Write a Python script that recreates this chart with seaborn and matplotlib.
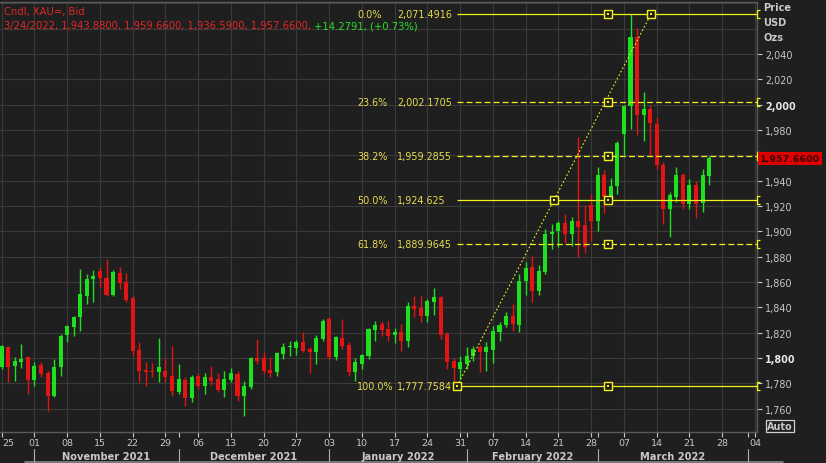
import numpy as np
import pandas as pd
import seaborn as sns
import matplotlib
matplotlib.use("Agg")
import matplotlib.pyplot as plt
from matplotlib.lines import Line2D
from matplotlib.patches import Rectangle
from matplotlib.path import Path

# ---------------- data ----------------
open_ = [1792.8, 1808.5, 1793.4, 1797.2, 1800.6, 1782.9, 1794.8, 1788.2, 1770.3, 1792.7,
         1818.2, 1824.8, 1832.2, 1849.3, 1862.0, 1868.3, 1863.0, 1850.1, 1867.2, 1859.9,
         1847.5, 1806.4, 1790.5, 1790.0, 1789.2, 1790.0, 1786.1, 1772.9, 1782.9, 1768.4,
         1786.1, 1777.7, 1785.3, 1783.4, 1775.0, 1782.6, 1787.4, 1770.3, 1777.4, 1800.1,
         1800.1, 1790.5, 1789.2, 1803.2, 1808.5, 1808.0, 1813.0, 1807.2, 1804.5, 1815.1,
         1830.9, 1800.6, 1815.9, 1810.3, 1789.2, 1795.3, 1801.4, 1822.4, 1826.9, 1823.0,
         1818.5, 1820.9, 1813.8, 1841.4, 1839.3, 1833.5, 1844.1, 1848.5, 1819.0, 1797.4,
         1791.4, 1795.3, 1801.4, 1808.5, 1805.1, 1806.6, 1820.3, 1826.1, 1832.9, 1826.1,
         1861.1, 1871.6, 1853.2, 1868.2, 1898.0, 1900.6, 1906.7, 1898.0, 1908.0, 1904.6,
         1920.4, 1908.5, 1944.6, 1926.4, 1935.7, 1977.1, 1999.0, 2053.5, 1992.1, 1996.8,
         1985.0, 1952.0, 1917.8, 1927.0, 1944.1, 1921.8, 1936.8, 1922.5, 1943.88]
high = [1810.5, 1809.5, 1800.6, 1811.1, 1801.9, 1797.1, 1797.1, 1790.0, 1799.2, 1819.0,
        1826.1, 1833.5, 1869.9, 1866.4, 1869.1, 1871.7, 1878.3, 1869.1, 1871.7, 1867.2,
        1849.3, 1812.9, 1796.6, 1796.1, 1815.6, 1799.8, 1809.8, 1795.3, 1784.8, 1786.6,
        1788.2, 1788.2, 1794.0, 1788.2, 1789.5, 1792.1, 1790.0, 1781.6, 1800.6, 1815.1,
        1804.5, 1800.6, 1805.1, 1811.9, 1813.8, 1814.5, 1820.9, 1808.5, 1818.2, 1830.9,
        1832.7, 1817.7, 1830.4, 1812.4, 1799.8, 1803.2, 1823.5, 1829.6, 1829.6, 1829.6,
        1823.5, 1826.9, 1844.1, 1849.3, 1848.8, 1846.7, 1855.1, 1849.3, 1820.3, 1799.8,
        1801.4, 1808.5, 1809.8, 1810.3, 1812.4, 1825.1, 1828.8, 1836.1, 1842.7, 1866.4,
        1875.6, 1880.9, 1873.5, 1901.9, 1905.9, 1908.5, 1913.8, 1911.2, 1974.4, 1920.4,
        1929.6, 1950.7, 1948.8, 1942.3, 1971.0, 2000.0, 2071.2, 2060.6, 2010.0, 2000.0,
        1990.3, 1954.7, 1931.0, 1950.7, 1946.3, 1941.5, 1939.4, 1949.4, 1959.66]
low = [1791.5, 1780.8, 1782.1, 1792.4, 1771.6, 1778.2, 1784.8, 1758.4, 1769.0, 1785.5,
       1812.4, 1817.2, 1821.6, 1842.7, 1844.6, 1855.9, 1848.8, 1849.3, 1854.6, 1844.0,
       1801.9, 1781.3, 1778.2, 1784.8, 1780.8, 1781.3, 1770.3, 1771.6, 1761.8, 1765.5,
       1775.5, 1771.6, 1779.0, 1772.9, 1769.5, 1781.3, 1766.3, 1754.0, 1775.5, 1795.3,
       1787.4, 1784.8, 1785.5, 1799.3, 1801.4, 1802.4, 1804.5, 1788.2, 1795.3, 1813.8,
       1798.7, 1798.7, 1807.2, 1786.1, 1782.1, 1791.4, 1799.3, 1813.8, 1817.7, 1813.8,
       1811.9, 1805.8, 1808.5, 1832.2, 1828.2, 1828.2, 1834.0, 1815.1, 1791.4, 1778.5,
       1783.4, 1791.4, 1797.9, 1788.7, 1790.0, 1796.1, 1813.8, 1824.2, 1821.6, 1820.8,
       1849.8, 1844.0, 1849.8, 1866.4, 1886.1, 1887.4, 1890.9, 1888.8, 1879.5, 1883.0,
       1892.7, 1900.6, 1914.3, 1922.5, 1929.6, 1960.0, 1981.0, 1976.3, 1971.0, 1960.0,
       1949.4, 1905.9, 1895.4, 1923.1, 1917.8, 1917.8, 1910.4, 1915.1, 1936.59]
close = [1809.8, 1792.7, 1797.9, 1799.3, 1782.9, 1794.0, 1787.4, 1770.3, 1792.7, 1817.2,
         1825.0, 1832.2, 1850.6, 1862.5, 1865.1, 1863.0, 1850.1, 1867.8, 1859.1, 1845.4,
         1805.8, 1790.0, 1789.2, 1788.7, 1793.2, 1785.3, 1774.2, 1783.4, 1768.4, 1785.3,
         1778.2, 1784.8, 1781.6, 1775.0, 1783.4, 1788.2, 1770.3, 1778.2, 1800.1, 1797.9,
         1790.0, 1788.2, 1804.0, 1809.0, 1809.6, 1812.4, 1805.8, 1804.5, 1815.6, 1829.6,
         1800.6, 1816.4, 1809.3, 1789.2, 1797.1, 1802.4, 1823.0, 1826.1, 1822.4, 1817.7,
         1820.3, 1813.8, 1841.4, 1838.8, 1833.5, 1844.8, 1848.0, 1818.2, 1797.1, 1791.9,
         1797.1, 1801.4, 1807.2, 1805.1, 1808.5, 1821.7, 1826.1, 1832.9, 1826.9, 1861.1,
         1870.9, 1853.2, 1869.0, 1898.0, 1899.3, 1906.7, 1898.0, 1908.0, 1903.8, 1888.0,
         1908.5, 1944.6, 1927.0, 1935.7, 1969.9, 1999.0, 2053.5, 1992.1, 1996.8, 1985.8,
         1952.0, 1917.8, 1928.9, 1944.1, 1921.8, 1936.8, 1921.8, 1944.7, 1957.66]

day_labels = ["25", "01", "08", "15", "22", "29", "06", "13", "20", "27", "03", "10",
              "17", "24", "31", "07", "14", "21", "28", "07", "14", "21", "28", "04"]
month_labels = ["November 2021", "December 2021", "January 2022", "February 2022", "March 2022"]
month_start_idx = [5, 27, 50, 71, 91, 114]

fib_pct = ["0.0%", "23.6%", "38.2%", "50.0%", "61.8%", "100.0%"]
fib_val = [2071.4916, 2002.1705, 1959.2855, 1924.625, 1889.9645, 1777.7584]
fib_val_text = ["2,071.4916", "2,002.1705", "1,959.2855", "1,924.625", "1,889.9645", "1,777.7584"]
fib_start = 69.5      # trading-day index of the 100% anchor
fib_end = 99.13       # trading-day index of the 0% anchor
fib_mid = 92.56       # column of level handles

price_ticks = [1760, 1780, 1800, 1820, 1840, 1860, 1880, 1900, 1920, 1940, 1980, 2000, 2020, 2040]
last_price = 1957.66
header1 = "Cndl, XAU=, Bid"
header2_red = "3/24/2022, 1,943.8800, 1,959.6600, 1,936.5900, 1,957.6600, "
header2_green = "+14.2791, (+0.73%)"

# ---------------- style ----------------
W, H = 826, 464
BG = "#1f1f1f"
GRID = "#3a3a3a"
UP = "#1fe01f"
DN = "#e21414"
YEL = "#f2f21a"
YTXT = "#e6dc50"
TXT = "#c8c8c8"

sns.set_theme(style="dark")
plt.rcParams["font.family"] = ["DejaVu Sans"]
plt.rcParams["lines.scale_dashes"] = False

fig = plt.figure(figsize=(W / 100, H / 100), dpi=100, facecolor=BG)
PX0, PXD = 1.7, 6.55         # pixel of index 0, pixels per trading day
AX_TOP, AX_BOT, AX_RIGHT = 3, 433, 757
ax = fig.add_axes([0, (H - AX_BOT) / H, AX_RIGHT / W, (AX_BOT - AX_TOP) / H])
ax.set_facecolor(BG)

y_top = 1800 + (359 - AX_TOP) / 1.2668
y_bot = 1800 - (AX_BOT - 359) / 1.2668
x_left = -PX0 / PXD
x_right = (AX_RIGHT - PX0) / PXD
ax.set_xlim(x_left, x_right)
ax.set_ylim(y_bot, y_top)

def fx(px):
    return px / W

def fy(py):
    return 1 - py / H

# grid
ax.grid(False)
for v in range(1740, 2100, 20):
    ax.axhline(v, color=GRID, lw=0.8, zorder=0)
for k in range(0, 120, 5):
    ax.axvline(k, color=GRID, lw=0.8, zorder=0)

# candles
df = pd.DataFrame({"i": np.arange(len(open_)), "o": open_, "h": high, "l": low, "c": close})
df["up"] = df["c"] >= df["o"]
df["col"] = np.where(df["up"], UP, DN)
df["bot"] = df[["o", "c"]].min(axis=1)
df["hgt"] = (df["c"] - df["o"]).abs().clip(lower=0.9)
ax.vlines(df["i"], df["l"], df["h"], colors=df["col"], lw=1.0, zorder=3)
ax.bar(df["i"], df["hgt"], bottom=df["bot"], width=0.62, color=df["col"], linewidth=0, zorder=4)

# fibonacci levels
dashed = {"23.6%", "38.2%", "61.8%"}
bracket = Path([(0.7, -1), (0, -1), (0, 1), (0.7, 1)],
               [Path.MOVETO, Path.LINETO, Path.LINETO, Path.LINETO])
for p, v, vt in zip(fib_pct, fib_val, fib_val_text):
    ls = (0, (4.3, 2.2)) if p in dashed else "-"
    ax.plot([fib_start, x_right], [v, v], color=YEL, lw=0.9, ls=ls, zorder=5, solid_capstyle="butt")
    ax.plot([x_right], [v], marker=bracket, ms=5.5, mec=YEL, mfc="none", mew=0.9,
            clip_on=False, zorder=6)
    ypx = 359 - (v - 1800) * 1.2668
    fig.text(fx(357), fy(ypx), p, color=YTXT, fontsize=6.9, va="center", ha="left")
    fig.text(fx(397), fy(ypx), vt, color=YTXT, fontsize=6.9, va="center", ha="left")

diag = pd.DataFrame({"x": [fib_start, fib_end], "y": [fib_val[-1], fib_val[0]]})
sns.lineplot(data=diag, x="x", y="y", ax=ax, color=YEL, lw=0.8, ls=(0, (1.2, 1.6)), zorder=5)

hx = [fib_mid] * 6 + [fib_end, fib_start, (fib_start + fib_end) / 2]
hy = list(fib_val) + [fib_val[0], fib_val[-1], fib_val[3]]
handles = pd.DataFrame({"x": hx, "y": hy})
sns.scatterplot(data=handles, x="x", y="y", ax=ax, marker="s", s=28, color=BG,
                edgecolor=YEL, linewidth=1.0, zorder=7)
sns.scatterplot(data=handles, x="x", y="y", ax=ax, marker="s", s=4, color=YEL,
                linewidth=0, zorder=8)
ax.set_xlabel("")
ax.set_ylabel("")

# spines
ax.spines["left"].set_visible(False)
for s in ["top", "right", "bottom"]:
    ax.spines[s].set_visible(True)
    ax.spines[s].set_color("#5a5a5a")
    ax.spines[s].set_linewidth(1.0)

# y axis on the right
ax.yaxis.tick_right()
ax.set_yticks(price_ticks)
ax.set_yticklabels([f"{t:,}" for t in price_ticks])
ax.tick_params(axis="y", which="both", right=True, left=False, length=3.5, width=0.8,
               color=TXT, pad=2.5, labelsize=6.9, labelcolor=TXT)
for lab in ax.get_yticklabels():
    if lab.get_text() in ("2,000", "1,800"):
        lab.set_fontweight("bold")
        lab.set_color("#e6e6e6")

# x ticks (marks only)
tick_pos = sorted(set(list(range(0, 116, 5)) + month_start_idx))
ax.set_xticks(tick_pos)
ax.set_xticklabels([""] * len(tick_pos))
ax.tick_params(axis="x", bottom=True, length=3.5, width=0.8, color=TXT, direction="out")

for k, lab in enumerate(day_labels):
    xp = PX0 + PXD * 5 * k
    if k == 0:
        fig.text(fx(2), fy(444), lab, color=TXT, fontsize=6.8, ha="left", va="center")
    else:
        fig.text(fx(xp), fy(444), lab, color=TXT, fontsize=6.8, ha="center", va="center")

for k, lab in enumerate(month_labels):
    c = (month_start_idx[k] + month_start_idx[k + 1]) / 2
    fig.text(fx(PX0 + PXD * c), fy(457), lab, color=TXT, fontsize=7.1,
             fontweight="bold", ha="center", va="center")
for m in month_start_idx:
    xp = PX0 + PXD * m
    fig.add_artist(Line2D([fx(xp), fx(xp)], [fy(450), fy(464)], color="#b0b0b0", lw=0.8))
fig.add_artist(Line2D([fx(25), fx(783)], [fy(463.2), fy(463.2)], color="#8a8a8a", lw=1.2))

# right header
for t, yp in zip(["Price", "USD", "Ozs"], [8, 23, 38]):
    fig.text(fx(763), fy(yp), t, color=TXT, fontsize=7.1, fontweight="bold", va="center", ha="left")

# last price box
yl = 359 - (last_price - 1800) * 1.2668
fig.add_artist(Rectangle((fx(758), fy(yl + 6.5)), (822 - 758) / W, 13 / H,
                         facecolor="#e00000", edgecolor="none", zorder=10))
fig.text(fx(759.5), fy(yl), f"{last_price:,.4f}", color="#3a0000", fontsize=6.8,
         fontweight="bold", va="center", ha="left", zorder=11)

# Auto box
fig.add_artist(Rectangle((fx(765.5), fy(432.5)), 28 / W, 11.5 / H,
                         facecolor="none", edgecolor="#d0d0d0", lw=0.9))
fig.text(fx(779.5), fy(426.8), "Auto", color=TXT, fontsize=6.9, fontweight="bold",
         ha="center", va="center")

# header
fig.text(fx(4), fy(12.5), header1, color="#e02828", fontsize=7.2, va="center", ha="left")
t_red = fig.text(fx(4), fy(26.5), header2_red, color="#e02828", fontsize=7.2, va="center", ha="left")
fig.canvas.draw()
bb = t_red.get_window_extent(renderer=fig.canvas.get_renderer())
fig.text(bb.x1 / W, fy(26.5), header2_green, color="#28e028", fontsize=7.2, va="center", ha="left")

fig.savefig("out.png", dpi=100, facecolor=BG)
